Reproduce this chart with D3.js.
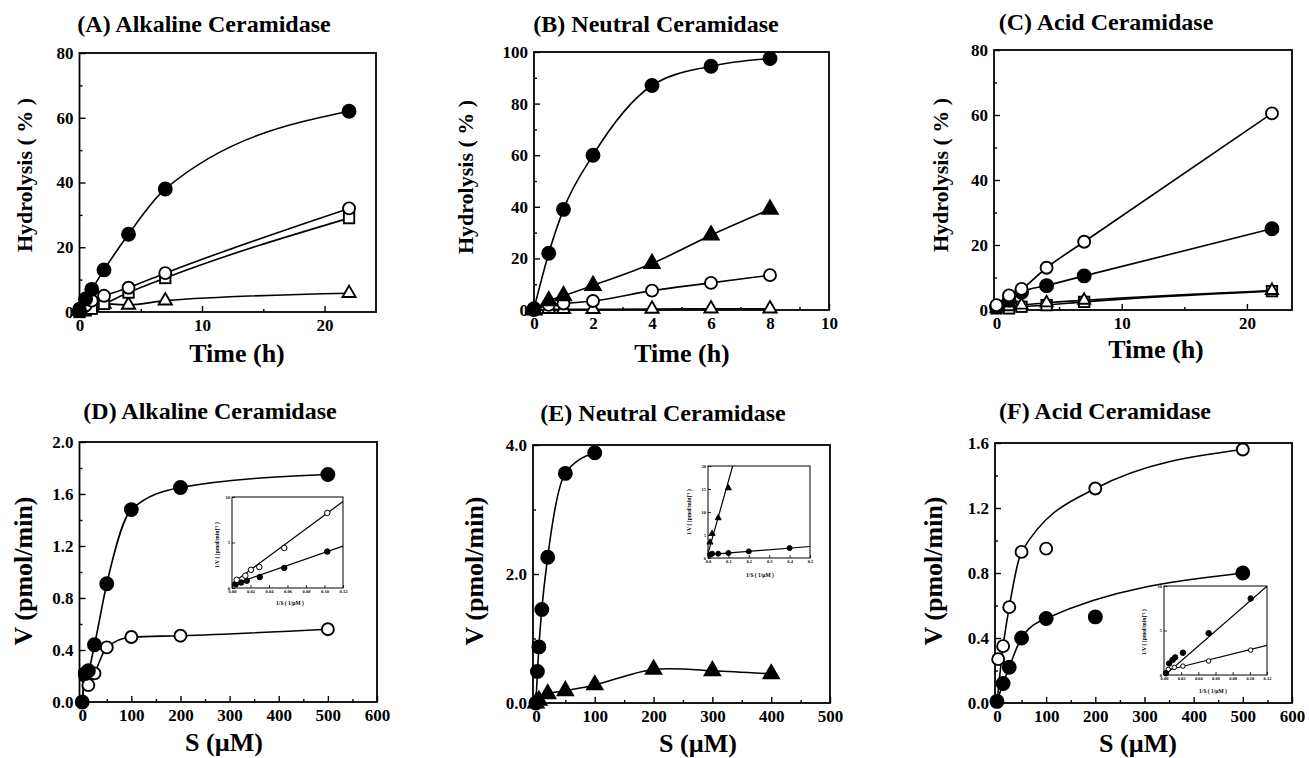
<!DOCTYPE html>
<html>
<head>
<meta charset="utf-8">
<title>Ceramidase hydrolysis and kinetics</title>
<script src="https://cdn.jsdelivr.net/npm/d3@7/dist/d3.min.js"></script>
<style>
  body { margin: 0; background: #fff; }
  svg text { font-family: 'Liberation Serif', 'Times New Roman', serif; font-weight: bold; fill: #000; }
</style>
</head>
<body>
<svg width="1309" height="758"></svg>
<script>
// ---------- data ----------
// (A) alkaline ceramidase, time course
const timeA = [0, 0.5, 1, 2, 4, 7, 22];
const alkFilledCircle = [0.5, 4, 7, 13, 24, 38, 62];
const alkOpenCircle   = [1, 2, 3.5, 5, 7.5, 12, 32];
const alkOpenSquare   = [0, 0.5, 1, 2.5, 6, 10.5, 29];
const alkOpenTriangle = [0.3, 1, 1.5, 2.5, 2.2, 3.5, 5.8];

// (B) neutral ceramidase, time course
const timeB = [0, 0.5, 1, 2, 4, 6, 8];
const neuFilledCircle   = [0.5, 22, 39, 60, 87, 94.5, 97.5];
const neuFilledTriangle = [0, 3.5, 5.5, 9.5, 18, 29, 39];
const neuOpenCircle     = [0, 2, 2.5, 3.5, 7.5, 10.5, 13.5];
const neuOpenTriangle   = [0, 0.3, 0.3, 0.3, 0.4, 0.5, 0.5];

// (C) acid ceramidase, time course
const timeC = [0, 1, 2, 4, 7, 22];
const acidOpenCircle   = [1.5, 4.5, 6.5, 13, 21, 60.5];
const acidFilledCircle = [1, 3, 5.5, 7.5, 10.5, 25];
const acidOpenSquare   = [0.5, 0.5, 1, 1.5, 2.5, 5.8];
const acidOpenTriangle = [0.5, 1, 1.5, 2.2, 3, 6];

// (D) alkaline ceramidase, V vs S
const substrateD = [0, 6.25, 12.5, 25, 50, 100, 200, 500];
const alkVFilled = [0, 0.22, 0.24, 0.44, 0.91, 1.48, 1.65, 1.75];
const alkVOpen   = [0, 0.2, 0.13, 0.22, 0.42, 0.5, 0.51, 0.56];
// inset (double reciprocal)
const alkInvSOpen   = [0.005, 0.0144, 0.0205, 0.0295, 0.0565, 0.103];
const alkInvVOpen   = [0.9, 1.35, 2.0, 2.3, 4.4, 8.25];
const alkInvSFilled = [0.004, 0.01, 0.016, 0.03, 0.0565, 0.103];
const alkInvVFilled = [0.4, 0.6, 0.8, 1.2, 2.2, 4.0];
const alkFitIntercept = [0.5, 0.35];   // open, filled
const alkFitSlope     = [75, 35.5];

// (E) neutral ceramidase, V vs S
const substrateE1 = [0, 2.5, 5, 10, 20, 50, 100];
const neuVFilledCircle = [0, 0.49, 0.87, 1.45, 2.26, 3.56, 3.88];
const substrateE2 = [0, 5, 20, 50, 100, 200, 300, 400];
const neuVFilledTriangle = [0, 0.04, 0.14, 0.19, 0.28, 0.52, 0.5, 0.45];
// inset
const neuInvSTriangle = [0.01, 0.02, 0.05, 0.1];
const neuInvVTriangle = [3.4, 5.3, 8.7, 15.2];
const neuInvSCircle   = [0.01, 0.02, 0.05, 0.1, 0.2, 0.4];
const neuInvVCircle   = [0.72, 0.94, 0.94, 1.08, 1.44, 2.17];
const neuFitIntercept = [1.0, 0.75];   // triangle, circle
const neuFitSlope     = [157, 3.5];

// (F) acid ceramidase, V vs S
const substrateFOpen   = [2.5, 12.5, 25, 50, 100, 200, 500];
const acidVOpen        = [0.27, 0.35, 0.59, 0.93, 0.95, 1.32, 1.56];
const substrateFFilled = [0, 12.5, 25, 50, 100, 200, 500];
const acidVFilled      = [0.01, 0.12, 0.22, 0.4, 0.52, 0.53, 0.8];
// inset
const acidInvSFilled = [0.0023, 0.006, 0.01, 0.013, 0.022, 0.052, 0.101];
const acidInvVFilled = [0.19, 1.3, 1.7, 1.98, 2.5, 4.7, 8.6];
const acidInvSOpen   = [0.005, 0.012, 0.022, 0.052, 0.101];
const acidInvVOpen   = [0.63, 0.86, 1.0, 1.57, 2.8];
const acidFitIntercept = [-0.1, 0.45];  // filled, open
const acidFitSlope     = [84, 24];

// ---------- drawing ----------
const svg = d3.select('svg');

const zip = (xs, ys) => xs.map((v, i) => [v, ys[i]]);

function drawMarkers(g, pts, x, y, type, size) {
  const filled = type[0] === 'f';
  const shape = type[1];
  const sel = g.append('g').selectAll(null).data(pts).enter();
  const sw = size > 8 ? 1.9 : 1;
  if (shape === 'c') {
    sel.append('circle')
      .attr('cx', d => x(d[0])).attr('cy', d => y(d[1]))
      .attr('r', filled ? size / 2 : size / 2 - 0.5)
      .attr('fill', filled ? '#000' : '#fff')
      .attr('stroke', '#000').attr('stroke-width', sw);
  } else if (shape === 't') {
    const s = size * 1.1, h = s * 0.866;
    sel.append('path')
      .attr('d', `M0,${-h * 2 / 3}L${s / 2},${h / 3}L${-s / 2},${h / 3}Z`)
      .attr('transform', d => `translate(${x(d[0])},${y(d[1])})`)
      .attr('fill', filled ? '#000' : '#fff')
      .attr('stroke', '#000').attr('stroke-width', sw).attr('stroke-linejoin', 'miter');
  } else {
    const s = size * 0.8;
    sel.append('rect')
      .attr('x', d => x(d[0]) - s / 2).attr('y', d => y(d[1]) - s / 2)
      .attr('width', s).attr('height', s)
      .attr('fill', filled ? '#000' : '#fff')
      .attr('stroke', '#000').attr('stroke-width', sw);
  }
}

function styleAxis(a, size) {
  a.select('.domain').remove();
  a.selectAll('.tick line').attr('stroke', '#000').attr('stroke-width', size > 8 ? 1.4 : 0.8);
  a.selectAll('.tick text')
    .attr('font-family', null)
    .style('font-size', size + 'px');
}

function frame(g, p, x, y, o) {
  // minor ticks
  g.append('g').attr('transform', `translate(0,${p.bottom})`)
    .call(d3.axisBottom(x).tickValues(p.xMinor || []).tickSize(-o.minor).tickFormat(''))
    .call(a => styleAxis(a, o.font));
  g.append('g').attr('transform', `translate(${p.left},0)`)
    .call(d3.axisLeft(y).tickValues(p.yMinor || []).tickSize(-o.minor).tickFormat(''))
    .call(a => styleAxis(a, o.font));
  // major ticks + labels
  g.append('g').attr('transform', `translate(0,${p.bottom})`)
    .call(d3.axisBottom(x).tickValues(p.xTicks).tickSize(-o.major).tickPadding(o.padX).tickFormat(p.xFmt))
    .call(a => styleAxis(a, o.font));
  g.append('g').attr('transform', `translate(${p.left},0)`)
    .call(d3.axisLeft(y).tickValues(p.yTicks).tickSize(-o.major).tickPadding(o.padY).tickFormat(p.yFmt))
    .call(a => styleAxis(a, o.font));
  g.append('rect')
    .attr('x', p.left).attr('y', p.top)
    .attr('width', p.right - p.left).attr('height', p.bottom - p.top)
    .attr('fill', 'none').attr('stroke', '#000').attr('stroke-width', o.box);
}

function drawPanel(p) {
  const g = svg.append('g');
  const x = d3.scaleLinear().domain(p.xDomain).range([p.left, p.right]);
  const y = d3.scaleLinear().domain(p.yDomain).range([p.bottom, p.top]);

  frame(g, p, x, y, {minor: 3, major: 6, padX: 7, padY: 6, font: 17, box: 1.8});

  g.append('text').attr('x', p.title[1]).attr('y', p.title[2])
    .attr('text-anchor', 'middle').style('font-size', '24px').text(p.title[0]);
  g.append('text').attr('x', p.xLabel[1]).attr('y', p.xLabel[2])
    .attr('text-anchor', 'middle').style('font-size', '26px').text(p.xLabel[0]);
  g.append('text')
    .attr('transform', `translate(${p.yLabel[1]},${p.yLabel[2]}) rotate(-90)`)
    .attr('text-anchor', 'middle').style('font-size', p.yLabel[3] + 'px').text(p.yLabel[0]);

  if (p.inset) drawInset(g, p.inset);

  const lineG = g.append('g');
  p.series.forEach(s => {
    const pts = zip(s.x, s.y);
    let cpts = pts.filter((d, i) => !(s.skip || []).includes(i));
    if (s.origin) cpts = [[0, 0]].concat(cpts);
    const line = d3.line().x(d => x(d[0])).y(d => y(d[1]))
      .curve(s.curve === 'cr' ? d3.curveCatmullRom.alpha(0.5) : d3.curveMonotoneX);
    lineG.append('path').attr('d', line(cpts))
      .attr('fill', 'none').attr('stroke', '#000').attr('stroke-width', 1.6);
  });
  p.series.forEach(s => drawMarkers(g, zip(s.x, s.y), x, y, s.mark, s.size || 13));
}

function drawInset(parent, p) {
  const g = parent.append('g');
  const x = d3.scaleLinear().domain(p.xDomain).range([p.left, p.right]);
  const y = d3.scaleLinear().domain(p.yDomain).range([p.bottom, p.top]);
  g.append('rect').attr('x', p.left).attr('y', p.top)
    .attr('width', p.right - p.left).attr('height', p.bottom - p.top).attr('fill', '#fff');
  frame(g, p, x, y, {minor: 1.5, major: 3, padX: 2, padY: 2, font: 4.5, box: 1});

  g.append('text').attr('x', p.xLabel[1]).attr('y', p.xLabel[2])
    .attr('text-anchor', 'middle').style('font-size', '5.5px').text(p.xLabel[0]);
  g.append('text')
    .attr('transform', `translate(${p.yLabel[1]},${p.yLabel[2]}) rotate(-90)`)
    .attr('text-anchor', 'middle').style('font-size', '5.5px').text(p.yLabel[0]);

  const id = 'clip' + p.id;
  g.append('clipPath').attr('id', id).append('rect')
    .attr('x', p.left).attr('y', p.top)
    .attr('width', p.right - p.left).attr('height', p.bottom - p.top);
  const fits = g.append('g').attr('clip-path', `url(#${id})`);
  p.fits.intercept.forEach((b, i) => {
    const m = p.fits.slope[i];
    const ends = p.xDomain.map(v => [v, b + m * v]);
    fits.append('path')
      .attr('d', d3.line().x(d => x(d[0])).y(d => y(d[1]))(ends))
      .attr('fill', 'none').attr('stroke', '#000').attr('stroke-width', 1.2);
  });
  p.series.forEach(s => drawMarkers(g, zip(s.x, s.y), x, y, s.mark, s.size || 5.5));
}

const fmtInt = d3.format('d');
const fmt1 = d3.format('.1f');
const fmt2 = d3.format('.2f');

const invLabelV = '1/V ( [pmol/min]\u207B\u00B9 )';
const invLabelS = '1/S ( 1/\u00B5M )';

const panels = [
  {
    left: 79.5, right: 376, top: 53, bottom: 312,
    xDomain: [0, 24.2], yDomain: [0, 80],
    xTicks: [0, 10, 20], xMinor: [5, 15], yTicks: [0, 20, 40, 60, 80], yMinor: [10, 30, 50, 70],
    xFmt: fmtInt, yFmt: fmtInt,
    title: ['(A) Alkaline Ceramidase', 204, 32],
    xLabel: ['Time (h)', 237, 362],
    yLabel: ['Hydrolysis ( % )', 32, 175, 22],
    series: [
      {x: timeA, y: alkOpenTriangle, mark: 'ot', size: 12},
      {x: timeA, y: alkOpenSquare, mark: 'os'},
      {x: timeA, y: alkOpenCircle, mark: 'oc'},
      {x: timeA, y: alkFilledCircle, mark: 'fc'}
    ]
  },
  {
    left: 534, right: 829, top: 52, bottom: 310,
    xDomain: [0, 10], yDomain: [0, 100],
    xTicks: [0, 2, 4, 6, 8, 10], xMinor: [1, 3, 5, 7, 9], yTicks: [0, 20, 40, 60, 80, 100], yMinor: [10, 30, 50, 70, 90],
    xFmt: fmtInt, yFmt: fmtInt,
    title: ['(B) Neutral Ceramidase', 656, 32],
    xLabel: ['Time (h)', 682, 362],
    yLabel: ['Hydrolysis ( % )', 473, 177, 22],
    series: [
      {x: timeB, y: neuOpenTriangle, mark: 'ot', size: 12},
      {x: timeB, y: neuOpenCircle, mark: 'oc'},
      {x: timeB, y: neuFilledTriangle, mark: 'ft', size: 14},
      {x: timeB, y: neuFilledCircle, mark: 'fc'}
    ]
  },
  {
    left: 994, right: 1292, top: 50, bottom: 310,
    xDomain: [-0.2, 23.6], yDomain: [0, 80],
    xTicks: [0, 10, 20], xMinor: [5, 15], yTicks: [0, 20, 40, 60, 80], yMinor: [10, 30, 50, 70],
    xFmt: fmtInt, yFmt: fmtInt,
    title: ['(C) Acid Ceramidase', 1106, 30],
    xLabel: ['Time (h)', 1156, 358],
    yLabel: ['Hydrolysis ( % )', 948, 175, 22],
    series: [
      {x: timeC, y: acidOpenSquare, mark: 'os'},
      {x: timeC, y: acidOpenTriangle, mark: 'ot', size: 11},
      {x: timeC, y: acidFilledCircle, mark: 'fc'},
      {x: timeC, y: acidOpenCircle, mark: 'oc'}
    ]
  },
  {
    left: 79.5, right: 377, top: 442, bottom: 702,
    xDomain: [-5.5, 600], yDomain: [0, 2.0],
    xTicks: [0, 100, 200, 300, 400, 500, 600], xMinor: [50, 150, 250, 350, 450, 550],
    yTicks: [0, 0.4, 0.8, 1.2, 1.6, 2.0], yMinor: [0.2, 0.6, 1.0, 1.4, 1.8],
    xFmt: fmtInt, yFmt: fmt1,
    title: ['(D) Alkaline Ceramidase', 210, 419],
    xLabel: ['S (\u00B5M)', 224, 751],
    yLabel: ['V (pmol/min)', 32, 571, 26],
    series: [
      {x: substrateD, y: alkVOpen, mark: 'oc'},
      {x: substrateD, y: alkVFilled, mark: 'fc'}
    ],
    inset: {
      id: 'D', left: 232, right: 343, top: 497, bottom: 588,
      xDomain: [0, 0.12], yDomain: [0, 10],
      xTicks: [0, 0.02, 0.04, 0.06, 0.08, 0.1, 0.12], yTicks: [0, 5, 10],
      xFmt: fmt2, yFmt: fmtInt,
      xLabel: [invLabelS, 290, 605],
      yLabel: [invLabelV, 219, 545],
      fits: {intercept: alkFitIntercept, slope: alkFitSlope},
      series: [
        {x: alkInvSFilled, y: alkInvVFilled, mark: 'fc'},
        {x: alkInvSOpen, y: alkInvVOpen, mark: 'oc', size: 6.5}
      ]
    }
  },
  {
    left: 533, right: 830, top: 445, bottom: 703,
    xDomain: [-5, 500], yDomain: [0, 4.0],
    xTicks: [0, 100, 200, 300, 400, 500], xMinor: [50, 150, 250, 350, 450],
    yTicks: [0, 2, 4], yMinor: [1, 3],
    xFmt: fmtInt, yFmt: fmt1,
    title: ['(E) Neutral Ceramidase', 663, 421],
    xLabel: ['S (\u00B5M)', 698, 752],
    yLabel: ['V (pmol/min)', 483, 571, 26],
    series: [
      {x: substrateE2, y: neuVFilledTriangle, mark: 'ft', size: 14, curve: 'cr'},
      {x: substrateE1, y: neuVFilledCircle, mark: 'fc'}
    ],
    inset: {
      id: 'E', left: 708, right: 810, top: 466, bottom: 558,
      xDomain: [0, 0.5], yDomain: [0, 20],
      xTicks: [0, 0.1, 0.2, 0.3, 0.4, 0.5], yTicks: [0, 5, 10, 15, 20],
      xFmt: fmt1, yFmt: fmtInt,
      xLabel: [invLabelS, 760, 577],
      yLabel: [invLabelV, 691, 512],
      fits: {intercept: neuFitIntercept, slope: neuFitSlope},
      series: [
        {x: neuInvSCircle, y: neuInvVCircle, mark: 'fc', size: 5},
        {x: neuInvSTriangle, y: neuInvVTriangle, mark: 'ft', size: 5.5}
      ]
    }
  },
  {
    left: 995, right: 1292, top: 443, bottom: 703,
    xDomain: [-4, 600], yDomain: [0, 1.6],
    xTicks: [0, 100, 200, 300, 400, 500, 600], xMinor: [50, 150, 250, 350, 450, 550],
    yTicks: [0, 0.4, 0.8, 1.2, 1.6], yMinor: [0.2, 0.6, 1.0, 1.4],
    xFmt: fmtInt, yFmt: fmt1,
    title: ['(F) Acid Ceramidase', 1105, 419],
    xLabel: ['S (\u00B5M)', 1138, 752],
    yLabel: ['V (pmol/min)', 942, 571, 26],
    series: [
      {x: substrateFOpen, y: acidVOpen, mark: 'oc', skip: [0, 4], origin: true},
      {x: substrateFFilled, y: acidVFilled, mark: 'fc', skip: [5]}
    ],
    inset: {
      id: 'F', left: 1164, right: 1267, top: 586, bottom: 675,
      xDomain: [0, 0.12], yDomain: [0, 10],
      xTicks: [0, 0.02, 0.04, 0.06, 0.08, 0.1, 0.12], yTicks: [0, 5, 10],
      xFmt: fmt2, yFmt: fmtInt,
      xLabel: [invLabelS, 1213, 693],
      yLabel: [invLabelV, 1146, 632],
      fits: {intercept: acidFitIntercept, slope: acidFitSlope},
      series: [
        {x: acidInvSOpen, y: acidInvVOpen, mark: 'oc', size: 5.5},
        {x: acidInvSFilled, y: acidInvVFilled, mark: 'fc', size: 5.5}
      ]
    }
  }
];

panels.forEach(drawPanel);
</script>
</body>
</html>
